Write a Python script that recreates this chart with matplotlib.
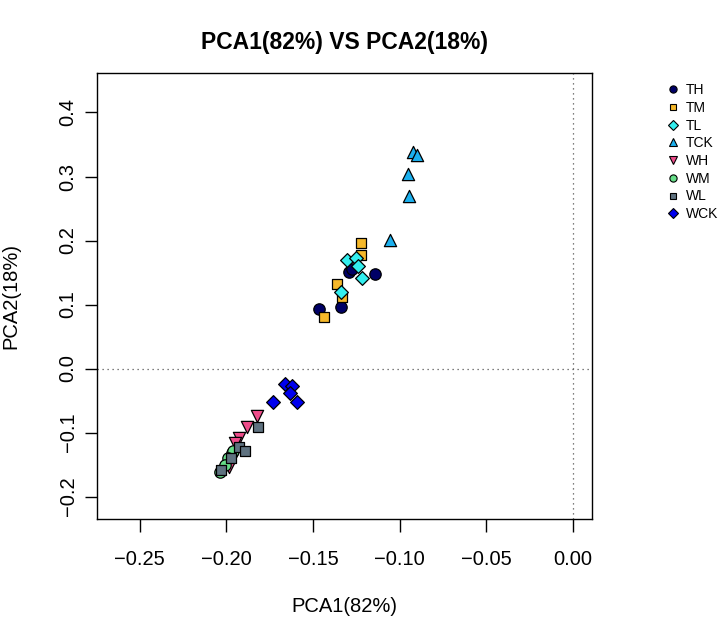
import matplotlib
matplotlib.use("Agg")
import matplotlib.pyplot as plt
from matplotlib.lines import Line2D

plt.rcParams['font.family'] = ['Liberation Sans', 'DejaVu Sans']

groups = ["TH", "TM", "TL", "TCK", "WH", "WM", "WL", "WCK"]
markers = ["o", "s", "D", "^", "v", "o", "s", "D"]
colors = ["#000066", "#F5B82A", "#33EEEE", "#1CB0EE", "#EE4C8A", "#66DD88", "#5F7280", "#0000EE"]
sizes = [8.2, 7.0, 7.0, 8.8, 8.8, 8.2, 7.0, 7.0]

TH_x = [-0.1293, -0.1275, -0.1142, -0.1466, -0.1339]
TH_y = [0.151, 0.155, 0.147, 0.093, 0.096]
TM_x = [-0.1223, -0.1223, -0.1362, -0.1335, -0.1437]
TM_y = [0.196, 0.177, 0.132, 0.112, 0.080]
TL_x = [-0.1304, -0.1250, -0.1240, -0.1217, -0.1339]
TL_y = [0.170, 0.172, 0.160, 0.141, 0.120]
TCK_x = [-0.0923, -0.0900, -0.0952, -0.0946, -0.1056]
TCK_y = [0.338, 0.334, 0.304, 0.270, 0.201]
WH_x = [-0.1825, -0.1883, -0.1930, -0.1950, -0.1985]
WH_y = [-0.074, -0.092, -0.109, -0.116, -0.154]
WM_x = [-0.1970, -0.1960, -0.1990, -0.2010, -0.2037]
WM_y = [-0.132, -0.128, -0.140, -0.150, -0.161]
WL_x = [-0.1818, -0.1927, -0.1893, -0.1975, -0.2033]
WL_y = [-0.091, -0.122, -0.128, -0.140, -0.159]
WCK_x = [-0.1662, -0.1623, -0.1633, -0.1593, -0.1733]
WCK_y = [-0.024, -0.027, -0.038, -0.052, -0.052]

xs = [TH_x, TM_x, TL_x, TCK_x, WH_x, WM_x, WL_x, WCK_x]
ys = [TH_y, TM_y, TL_y, TCK_y, WH_y, WM_y, WL_y, WCK_y]

x_ticks = [-0.25, -0.20, -0.15, -0.10, -0.05, 0.00]
y_ticks = [-0.2, -0.1, 0.0, 0.1, 0.2, 0.3, 0.4]

W, H = 721, 621
fig = plt.figure(figsize=(W / 100, H / 100), dpi=100)
L, R, T, B = 97, 592, 73, 519
ax = fig.add_axes([L / W, 1 - B / H, (R - L) / W, (B - T) / H])

ax.axhline(0, color="#555555", lw=0.9, ls=(0, (1, 3)), zorder=1)
ax.axvline(0, color="#555555", lw=0.9, ls=(0, (1, 3)), zorder=1)

for g, m, c, s, x, y in zip(groups, markers, colors, sizes, xs, ys):
    ax.scatter(x, y, marker=m, s=s ** 2, facecolor=c, edgecolor="black", linewidths=0.9, zorder=3)

ax.set_xlim(-0.2747, 0.0110)
ax.set_ylim(-0.2350, 0.4617)
ax.set_xticks(x_ticks)
ax.set_xticklabels(["\u22120.25", "\u22120.20", "\u22120.15", "\u22120.10", "\u22120.05", "0.00"])
ax.set_yticks(y_ticks)
ax.set_yticklabels(["\u22120.2", "\u22120.1", "0.0", "0.1", "0.2", "0.3", "0.4"], rotation=90, va="center")
ax.tick_params(axis="x", length=9.5, width=1.0, pad=13, labelsize=14.5)
ax.tick_params(axis="y", length=9, width=1.0, pad=5, labelsize=14.5)
for sp in ax.spines.values():
    sp.set_linewidth(1.0)

ax.set_xlabel("PCA1(82%)", fontsize=14.5, va="center")
ax.xaxis.set_label_coords(0.5, (B - 606) / (B - T))
ax.set_ylabel("PCA2(18%)", fontsize=14.5, va="center")
ax.yaxis.set_label_coords((11 - L) / (R - L), 0.5)

ax.text(0.5, (B - 42) / (B - T), "PCA1(82%) VS PCA2(18%)", transform=ax.transAxes,
        ha="center", va="center", fontsize=16.5, fontweight="bold")

handles = [Line2D([], [], ls="none", marker=m, markersize=5.2 if m in ("o", "^", "v") else 4.6,
                  markerfacecolor=c, markeredgecolor="black", markeredgewidth=0.8)
           for m, c in zip(markers, colors)]
fig.legend(handles, groups, loc="upper left", bbox_to_anchor=(666 / W, 1 - 83 / H),
           frameon=False, fontsize=10, handlelength=1.0, handletextpad=0.45,
           labelspacing=0.27, borderpad=0, borderaxespad=0)

fig.savefig("out.png", dpi=100)
